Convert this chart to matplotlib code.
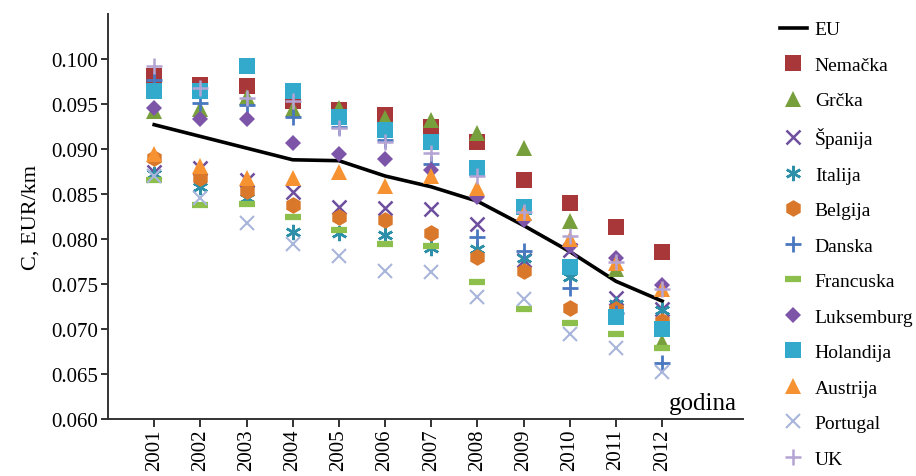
import matplotlib
matplotlib.use("Agg")
import matplotlib.pyplot as plt

plt.rcParams['font.family'] = ['Liberation Serif', 'DejaVu Serif']

godine = list(range(2001, 2013))

eu = [0.0927, 0.0914, 0.0901, 0.0888, 0.0887, 0.0870, 0.0858, 0.0842, 0.0815, 0.0786, 0.0753, 0.0731]

nemacka = [0.0981, 0.0971, 0.0970, 0.0953, 0.0943, 0.0938, 0.0925, 0.0908, 0.0866, 0.0840, 0.0813, 0.0786]
grcka = [0.0942, 0.0944, 0.0958, 0.0944, 0.0946, 0.0934, 0.0932, 0.0918, 0.0901, 0.0820, 0.0767, 0.0686]
spanija = [0.0875, 0.0879, 0.0866, 0.0852, 0.0836, 0.0834, 0.0833, 0.0817, 0.0777, 0.0788, 0.0734, 0.0722]
italija = [0.0872, 0.0858, 0.0846, 0.0808, 0.0807, 0.0805, 0.0790, 0.0789, 0.0779, 0.0758, 0.0728, 0.0721]
belgija = [0.0890, 0.0868, 0.0853, 0.0838, 0.0824, 0.0821, 0.0807, 0.0780, 0.0764, 0.0723, 0.0722, 0.0709]
danska = [0.0977, 0.0951, 0.0949, 0.0936, 0.0925, 0.0910, 0.0883, 0.0802, 0.0787, 0.0746, 0.0718, 0.0662]
francuska = [0.0866, 0.0838, 0.0839, 0.0825, 0.0810, 0.0794, 0.0792, 0.0752, 0.0722, 0.0707, 0.0694, 0.0679]
luksemburg = [0.0946, 0.0933, 0.0933, 0.0907, 0.0894, 0.0889, 0.0877, 0.0847, 0.0821, 0.0792, 0.0779, 0.0749]
holandija = [0.0964, 0.0964, 0.0992, 0.0964, 0.0936, 0.0921, 0.0908, 0.0879, 0.0836, 0.0769, 0.0713, 0.0700]
austrija = [0.0894, 0.0881, 0.0868, 0.0868, 0.0874, 0.0859, 0.0870, 0.0857, 0.0829, 0.0800, 0.0773, 0.0744]
portugal = [0.0870, 0.0846, 0.0818, 0.0794, 0.0781, 0.0764, 0.0763, 0.0736, 0.0733, 0.0694, 0.0679, 0.0652]
uk = [0.0992, 0.0968, 0.0957, 0.0953, 0.0923, 0.0908, 0.0896, 0.0870, 0.0830, 0.0803, 0.0775, 0.0745]

# (label, values, marker, color, size, edge width)
zemlje = [
    ("Nemačka", nemacka, "s", "#A8373A", 11, 0),
    ("Grčka", grcka, "^", "#77A03C", 11, 0),
    ("Španija", spanija, "x", "#6E4E9E", 10, 1.8),
    ("Italija", italija, (6, 2, 0), "#2E8FA8", 11, 1.8),
    ("Belgija", belgija, "h", "#D9772B", 12, 0),
    ("Danska", danska, "+", "#4A78C0", 11, 2.0),
    ("Francuska", francuska, "_", "#8DBF4C", 11, 4.5),
    ("Luksemburg", luksemburg, "D", "#7D55A8", 8, 0),
    ("Holandija", holandija, "s", "#33A9CC", 11, 0),
    ("Austrija", austrija, "^", "#F79233", 11, 0),
    ("Portugal", portugal, "x", "#A9B6DC", 10, 1.5),
    ("UK", uk, "+", "#B3A4D4", 11, 1.8),
]

fig = plt.figure(figsize=(9.16, 4.77), dpi=100)
ax = fig.add_axes([108 / 916, 57 / 477, 635 / 916, 405 / 477])

ax.plot(godine, eu, color="black", lw=2.6, label="EU", zorder=2)
for ime, vrednosti, mk, boja, ms, mew in zemlje:
    if mew > 0:
        ax.plot(godine, vrednosti, ls="none", marker=mk, ms=ms, mec=boja,
                mew=mew, label=ime, zorder=3)
    else:
        ax.plot(godine, vrednosti, ls="none", marker=mk, ms=ms, mfc=boja,
                mec=boja, mew=0, label=ime, zorder=3)

ax.set_xlim(2000, 2013.75)
ax.set_ylim(0.060, 0.105)
ax.set_xticks(godine)
ax.set_xticklabels([str(g) for g in godine], rotation=90, fontsize=15)
ax.set_yticks([0.060, 0.065, 0.070, 0.075, 0.080, 0.085, 0.090, 0.095, 0.100])
ax.set_yticklabels(["%.3f" % v for v in ax.get_yticks()], fontsize=15)

for s in ["top", "right"]:
    ax.spines[s].set_visible(False)
for s in ["left", "bottom"]:
    ax.spines[s].set_color("#333333")
    ax.spines[s].set_linewidth(1.4)
ax.tick_params(axis="y", direction="out", length=5, width=1.4, color="#333333", pad=2)
ax.tick_params(axis="x", direction="out", length=6, width=1.4, color="#333333", pad=1)

ax.set_ylabel("C, EUR/km", fontsize=16, labelpad=8)
ax.text(0.99, 0.012, "godina", transform=ax.transAxes, ha="right", va="bottom", fontsize=18)

fig.legend(loc="upper left", bbox_to_anchor=(772 / 916, 1 - 14 / 477), frameon=False,
           fontsize=14, labelspacing=0.92, handlelength=1.4, handletextpad=0.4,
           borderaxespad=0)

fig.savefig("out.png", dpi=100)
